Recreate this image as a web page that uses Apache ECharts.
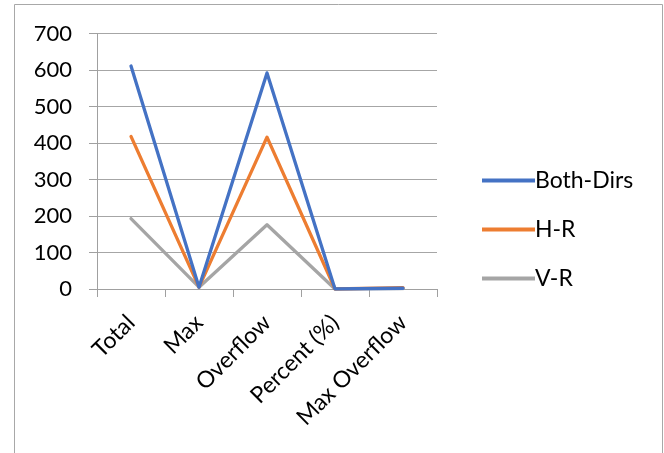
<!DOCTYPE html>
<html>
<head>
<meta charset="utf-8">
<script src="https://cdn.jsdelivr.net/npm/echarts@6/dist/echarts.min.js"></script>
<style>
  html, body { margin: 0; padding: 0; background: #fff; }
  #chart { width: 664px; height: 453px; }
</style>
</head>
<body>
<div id="chart"></div>
<script>
// Routing statistics per direction mode
const categories = ['Total', 'Max', 'Overflow', 'Percent (%)', 'Max Overflow'];
const bothDirs = [611, 5, 592, 0, 2];
const hR = [418, 5, 416, 0, 4];
const vR = [193, 5, 176, 0, 1];
const yTicks = { min: 0, max: 700, interval: 100 };

const FONT = 'Lato';
const chart = echarts.init(document.getElementById('chart'), null, { renderer: 'canvas' });

function lineSeries(name, data, color) {
  return {
    name: name,
    type: 'line',
    data: data,
    symbol: 'none',
    lineStyle: { width: 3.3, color: color, cap: 'round', join: 'round' },
    itemStyle: { color: color },
    emphasis: { disabled: true }
  };
}

chart.setOption({
  animation: false,
  backgroundColor: '#ffffff',
  textStyle: { fontFamily: FONT },
  grid: { left: 97, right: 227, top: 33.5, bottom: 164, containLabel: false },
  legend: {
    orient: 'vertical',
    left: 477,
    top: 164,
    itemWidth: 53,
    itemHeight: 4,
    itemGap: 26,
    icon: 'rect',
    textStyle: { fontFamily: FONT, fontSize: 23, color: '#000', padding: [0, 0, 0, -5] },
    data: ['Both-Dirs', 'H-R', 'V-R']
  },
  xAxis: {
    type: 'category',
    data: categories,
    boundaryGap: true,
    axisLine: { lineStyle: { color: '#a0a0a0', width: 1 } },
    axisTick: { show: true, length: 8, inside: false, lineStyle: { color: '#a0a0a0' } },
    axisLabel: {
      rotate: 45,
      margin: 30,
      fontFamily: FONT,
      fontSize: 23,
      color: '#000',
      interval: 0
    }
  },
  yAxis: {
    type: 'value',
    min: yTicks.min,
    max: yTicks.max,
    interval: yTicks.interval,
    axisLine: { show: true, lineStyle: { color: '#a0a0a0', width: 1 } },
    axisTick: { show: true, length: 8, inside: false, lineStyle: { color: '#a0a0a0' } },
    splitLine: { show: true, lineStyle: { color: '#a6a6a6', width: 1 } },
    axisLabel: { margin: 25, fontFamily: FONT, fontSize: 22, color: '#000' }
  },
  graphic: [
    {
      type: 'polyline',
      silent: true,
      shape: { points: [[14.5, 460], [14.5, 4.5], [662.5, 4.5], [662.5, 460]] },
      style: { stroke: '#a8a8a8', lineWidth: 1, fill: null }
    }
  ],
  series: [
    lineSeries('V-R', vR, '#A5A5A5'),
    lineSeries('H-R', hR, '#ED7D31'),
    lineSeries('Both-Dirs', bothDirs, '#4472C4')
  ]
});
</script>
</body>
</html>
